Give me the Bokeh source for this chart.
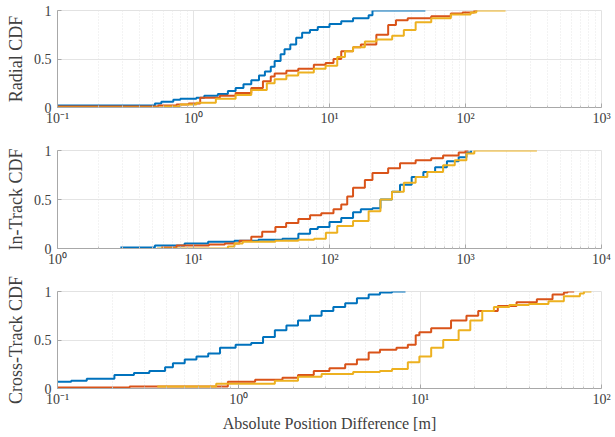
from bokeh.plotting import figure
from bokeh.layouts import column
from bokeh.models import FixedTicker, Range1d
from bokeh.embed import file_html
from bokeh.resources import INLINE

# ---------------- data ----------------
# Radial CDF
rad_blue_x = [0.1, 0.52, 0.58, 0.71, 0.80, 1.05, 1.20, 1.51, 1.79, 2.04, 2.33, 2.66, 3.03, 3.35, 3.70, 3.95,
              4.37, 4.67, 5.15, 5.69, 6.29, 7.18, 8.20, 10.0, 12.2, 14.9, 19.4, 20.7, 50.7]
rad_blue_y = [0.02, 0.04, 0.06, 0.08, 0.09, 0.10, 0.12, 0.14, 0.17, 0.20, 0.24, 0.28, 0.33, 0.37, 0.42, 0.48,
              0.55, 0.60, 0.65, 0.72, 0.77, 0.80, 0.83, 0.86, 0.89, 0.92, 0.95, 1.0, 1.0]
rad_red_x = [0.1, 0.55, 0.75, 0.92, 1.12, 1.56, 2.04, 2.66, 3.24, 3.70, 3.95, 4.82, 5.89, 7.67, 9.36, 10.7,
             12.2, 14.9, 17.0, 22.1, 27.0, 30.8, 37.6, 56.0, 78.0, 95.1, 116, 122]
rad_red_y = [0.01, 0.02, 0.03, 0.04, 0.10, 0.12, 0.15, 0.20, 0.27, 0.32, 0.35, 0.38, 0.40, 0.44, 0.46, 0.50,
             0.58, 0.62, 0.65, 0.75, 0.85, 0.90, 0.92, 0.94, 0.97, 0.98, 1.0, 1.0]
rad_yel_x = [0.1, 0.6, 0.8, 1.05, 1.46, 2.04, 2.66, 3.46, 3.95, 4.82, 5.89, 7.67, 9.36, 11.4, 13.0, 14.9,
             18.2, 22.1, 28.9, 35.2, 43.0, 56.0, 78.0, 109, 120, 197]
rad_yel_y = [0.0, 0.01, 0.03, 0.05, 0.09, 0.13, 0.18, 0.25, 0.29, 0.33, 0.36, 0.40, 0.43, 0.52, 0.58, 0.62,
             0.68, 0.70, 0.74, 0.80, 0.88, 0.92, 0.96, 0.98, 1.0, 1.0]

# In-Track CDF
int_blue_x = [2.9, 5.2, 8.6, 12.8, 20, 30, 45, 59, 72, 82, 100, 122, 149, 170, 207, 237, 288, 330, 402, 490,
              598, 730, 891, 1016, 1100]
int_blue_y = [0.01, 0.03, 0.05, 0.07, 0.08, 0.09, 0.10, 0.15, 0.20, 0.22, 0.27, 0.31, 0.37, 0.40, 0.41, 0.50,
              0.58, 0.65, 0.73, 0.78, 0.83, 0.89, 0.93, 0.98, 1.0]
int_red_x = [5.8, 7.5, 13, 17, 21.8, 26.6, 32, 40, 48, 59, 72, 87, 107, 122, 135, 149, 182, 207, 270, 330,
             430, 560, 684, 891, 1000, 1050]
int_red_y = [0.01, 0.03, 0.04, 0.05, 0.08, 0.12, 0.17, 0.22, 0.26, 0.30, 0.34, 0.36, 0.40, 0.45, 0.53, 0.62,
             0.70, 0.77, 0.82, 0.87, 0.90, 0.92, 0.95, 0.98, 1.0, 1.0]
int_yel_x = [5.4, 17.9, 20, 23, 40, 59, 77, 94, 114, 149, 194, 237, 288, 352, 430, 524, 684, 834, 1016,
             1161, 3350]
int_yel_y = [0.0, 0.02, 0.05, 0.07, 0.08, 0.09, 0.10, 0.16, 0.23, 0.28, 0.38, 0.50, 0.58, 0.67, 0.73, 0.78,
             0.85, 0.90, 0.97, 1.0, 1.0]

# Cross-Track CDF
crs_blue_x = [0.1, 0.119, 0.145, 0.206, 0.264, 0.321, 0.392, 0.433, 0.503, 0.584, 0.678, 0.787, 0.96, 1.17,
              1.36, 1.58, 1.83, 2.12, 2.47, 2.86, 3.32, 3.86, 4.48, 5.2, 6.0, 7.0, 8.3]
crs_blue_y = [0.07, 0.08, 0.10, 0.14, 0.16, 0.18, 0.22, 0.26, 0.30, 0.33, 0.36, 0.42, 0.45, 0.47, 0.53, 0.60,
              0.65, 0.70, 0.75, 0.80, 0.84, 0.88, 0.93, 0.97, 0.99, 1.0, 1.0]
crs_red_x = [0.1, 0.25, 0.41, 0.87, 1.23, 1.74, 2.12, 2.59, 3.16, 3.86, 4.48, 5.2, 6.0, 7.4, 8.55, 9.45, 9.9,
             11.5, 14.8, 18, 20.9, 26.8, 34, 44, 53.7, 62, 65, 70.7]
crs_red_y = [0.01, 0.02, 0.02, 0.07, 0.09, 0.11, 0.14, 0.18, 0.21, 0.25, 0.30, 0.37, 0.40, 0.42, 0.45, 0.55,
             0.58, 0.62, 0.70, 0.75, 0.80, 0.85, 0.89, 0.92, 0.97, 0.99, 1.0, 1.0]
crs_yel_x = [0.355, 0.75, 1.58, 2.12, 2.86, 4.27, 6.0, 7.0, 8.55, 9.9, 11.5, 13.4, 16.3, 18.9, 22, 25.5, 31,
             39.8, 51, 62, 76, 80, 88]
crs_yel_y = [0.02, 0.05, 0.08, 0.12, 0.15, 0.17, 0.18, 0.20, 0.27, 0.33, 0.42, 0.50, 0.60, 0.70, 0.80, 0.84,
             0.86, 0.87, 0.90, 0.95, 0.98, 1.0, 1.0]

# axes
y_ticks = [0, 0.5, 1]
y_tick_labels = ["0", "0.5", "1"]
rad_x_ticks = [0.1, 1, 10, 100, 1000]
rad_x_labels = ["10⁻¹", "10⁰", "10¹", "10²", "10³"]
int_x_ticks = [1, 10, 100, 1000, 10000]
int_x_labels = ["10⁰", "10¹", "10²", "10³", "10⁴"]
crs_x_ticks = [0.1, 1, 10, 100]
crs_x_labels = ["10⁻¹", "10⁰", "10¹", "10²"]
y_labels = ["Radial CDF", "In-Track CDF", "Cross-Track CDF"]
x_label = "Absolute Position Difference [m]"

COLORS = ["#0072BD", "#D95319", "#EDB120"]
FONT = "Liberation Serif"
TXT = "#404040"


def panel(ylabel, xticks, xlabels, series, top, bottom, frame_h, xlabel=None):
    lo, hi = xticks[0], xticks[-1]
    p = figure(x_axis_type="log", x_range=Range1d(lo, hi), y_range=Range1d(0, 1),
               frame_width=544, frame_height=frame_h,
               min_border_left=57, min_border_right=14, min_border_top=top, min_border_bottom=bottom,
               output_backend="svg", toolbar_location=None, background_fill_color="white",
               border_fill_color="white")
    minor = []
    for i in range(len(xticks) - 1):
        for k in range(2, 10):
            minor.append(xticks[i] * k)
    p.xaxis.ticker = FixedTicker(ticks=xticks, minor_ticks=minor)
    p.xaxis.major_label_overrides = dict(zip([float(t) for t in xticks], xlabels))
    p.yaxis.ticker = FixedTicker(ticks=y_ticks)
    p.yaxis.major_label_overrides = dict(zip([float(t) for t in y_ticks], y_tick_labels))

    for ax in (p.xaxis[0], p.yaxis[0]):
        ax.major_label_text_font = FONT
        ax.major_label_text_font_size = "14px"
        ax.major_label_text_color = TXT
        ax.axis_label_text_font = FONT
        ax.axis_label_text_font_style = "normal"
        ax.axis_label_text_color = TXT
        ax.axis_line_color = "#a8a8a8"
        ax.major_tick_line_color = "#a8a8a8"
        ax.minor_tick_line_color = "#c0c0c0"
        ax.major_tick_in = 4
        ax.major_tick_out = 0
        ax.minor_tick_in = 2
        ax.minor_tick_out = 0
    p.yaxis.minor_tick_line_color = None
    p.xaxis.major_label_standoff = 3
    p.yaxis.major_label_standoff = 6
    p.yaxis.axis_label = ylabel
    p.yaxis.axis_label_text_font_size = "18px"
    p.yaxis.axis_label_standoff = 5
    if xlabel:
        p.xaxis.axis_label = xlabel
        p.xaxis.axis_label_text_font_size = "16px"
        p.xaxis.axis_label_standoff = 5

    p.outline_line_color = "#e2e2e2"
    p.xgrid.grid_line_color = "#e4e4e4"
    p.ygrid.grid_line_color = "#e4e4e4"
    p.xgrid.minor_grid_line_color = "#e6e6e6"
    p.xgrid.minor_grid_line_dash = "1 2"

    for (xs, ys), c in zip(series, COLORS):
        p.step(xs, ys, mode="after", line_color=c, line_width=2)
    return p


p1 = panel(y_labels[0], rad_x_ticks, rad_x_labels,
           [(rad_blue_x, rad_blue_y), (rad_red_x, rad_red_y), (rad_yel_x, rad_yel_y)], 10, 23, 97)
p2 = panel(y_labels[1], int_x_ticks, int_x_labels,
           [(int_blue_x, int_blue_y), (int_red_x, int_red_y), (int_yel_x, int_yel_y)], 20, 22, 98)
p3 = panel(y_labels[2], crs_x_ticks, crs_x_labels,
           [(crs_blue_x, crs_blue_y), (crs_red_x, crs_red_y), (crs_yel_x, crs_yel_y)], 21, 49, 97, x_label)

layout = column(p1, p2, p3, spacing=0)
open("out.html", "w").write(file_html(layout, INLINE))
